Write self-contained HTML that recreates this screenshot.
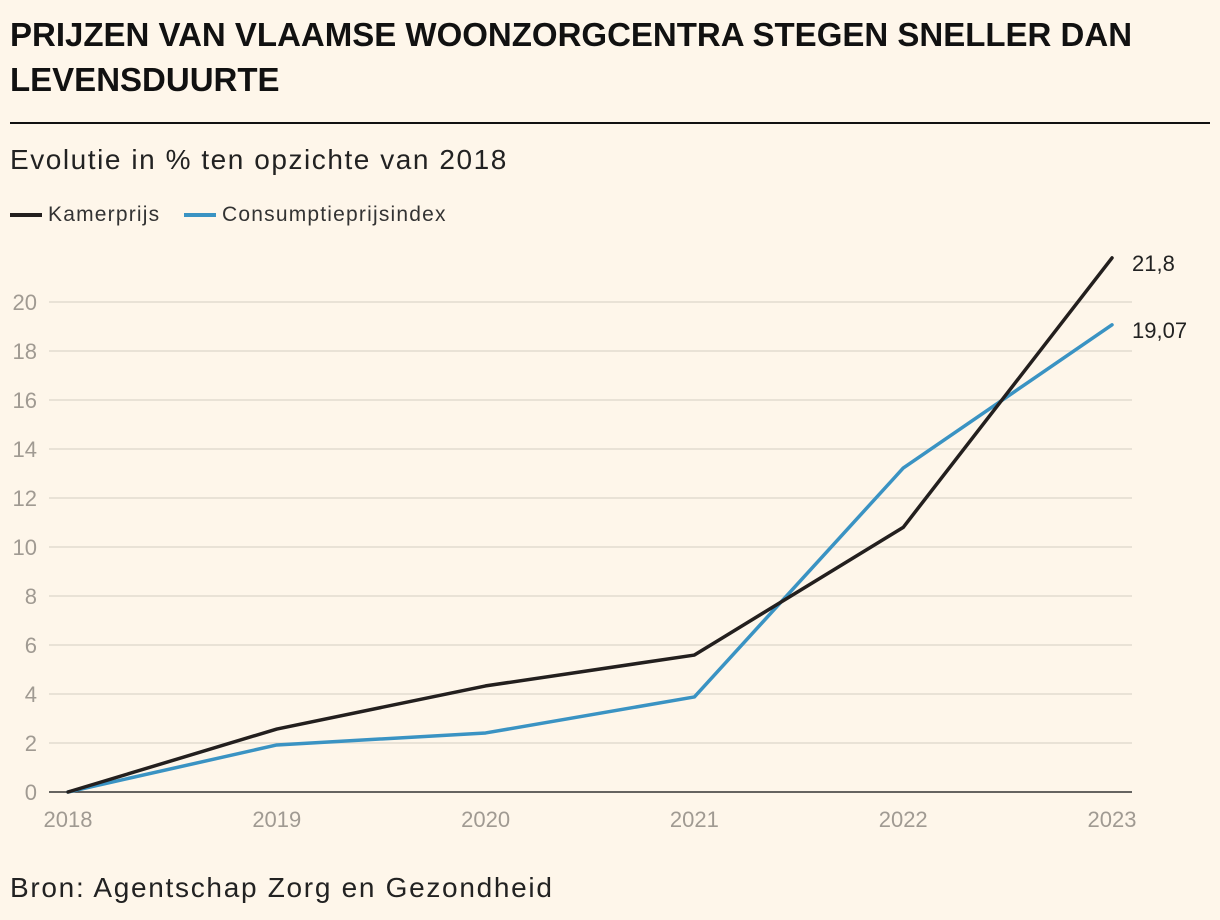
<!DOCTYPE html>
<html><head><meta charset="utf-8"><style>
body{margin:0;background:#fef6ea;font-family:"Liberation Sans",sans-serif;}
</style></head><body>
<div style="position:relative;width:1220px;height:920px;background:#fef6ea">
<div style="position:absolute;left:10px;top:12px;width:1200px;font-weight:bold;font-size:33px;line-height:45px;color:#111">PRIJZEN VAN VLAAMSE WOONZORGCENTRA STEGEN SNELLER DAN LEVENSDUURTE</div>
<div style="position:absolute;left:10px;top:122px;width:1200px;height:2px;background:#111"></div>
<div style="position:absolute;left:10px;top:144px;font-size:28px;letter-spacing:1.55px;color:#222">Evolutie in % ten opzichte van 2018</div>
<div style="position:absolute;left:10px;top:203px;font-size:21px;letter-spacing:1.2px;color:#333"><span style="display:inline-block;width:32px;height:4px;background:#231f1e;vertical-align:middle;margin-right:6px"></span>Kamerprijs</div>
<div style="position:absolute;left:184px;top:203px;font-size:21px;letter-spacing:1.2px;color:#333"><span style="display:inline-block;width:32px;height:4px;background:#3a93c3;vertical-align:middle;margin-right:6px"></span>Consumptieprijsindex</div>
<svg id="c" width="1220" height="920" style="position:absolute;left:0;top:0"></svg>
<div style="position:absolute;left:10px;top:872px;font-size:28px;letter-spacing:1.7px;color:#222">Bron: Agentschap Zorg en Gezondheid</div>
</div>
<script>
const years=["2018","2019","2020","2021","2022","2023"];
const kamerprijs=[0,2.57,4.33,5.59,10.8,21.8];
const cpi=[0,1.92,2.41,3.88,13.22,19.07];
const yTicks=[0,2,4,6,8,10,12,14,16,18,20];
const endLabels=["21,8","19,07"];
const NS="http://www.w3.org/2000/svg";
const svg=document.getElementById('c');
const x=i=>68+i*(1112-68)/(years.length-1);
const y=v=>792-v*24.5;
function mk(t,a){const e=document.createElementNS(NS,t);for(const k in a)e.setAttribute(k,a[k]);svg.appendChild(e);return e;}
yTicks.forEach(v=>{
 if(v>0){const g=mk('line',{x1:49,x2:1132,y1:y(v),y2:y(v),stroke:'#e2dcd0','stroke-width':1.5});
 
 }
 const t=mk('text',{x:37,y:y(v)+8,'text-anchor':'end','font-size':22,fill:'#a09a92','font-family':'Liberation Sans, sans-serif'});
 t.textContent=v;
 
 
});
const ax=mk('line',{x1:49,x2:1132,y1:792,y2:792,stroke:'#333','stroke-width':1.5});


years.forEach((yr,i)=>{
 const t=mk('text',{x:x(i),y:827,'text-anchor':'middle','font-size':22,fill:'#a09a92','font-family':'Liberation Sans, sans-serif'});
 t.textContent=yr;
 
 
});
[[cpi,'#3a93c3','cpi-line'],[kamerprijs,'#231f1e','kamerprijs-line']].forEach(([d,c,n])=>{
 const p=mk('polyline',{points:d.map((v,i)=>x(i)+','+y(v)).join(' '),fill:'none',stroke:c,'stroke-width':3.5,'stroke-linejoin':'round','stroke-linecap':'round'});
 
 
});
[[kamerprijs,endLabels[0]],[cpi,endLabels[1]]].forEach(([d,l])=>{
 const t=mk('text',{x:1132,y:y(d[d.length-1])+13,'font-size':22,fill:'#222','font-family':'Liberation Sans, sans-serif'});
 t.textContent=l;
 
 
});
</script>
</body></html>
